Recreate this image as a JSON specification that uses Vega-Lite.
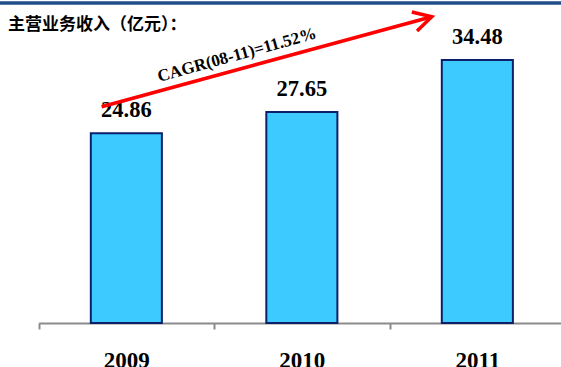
{
  "$schema": "https://vega.github.io/schema/vega-lite/v6.json",
  "width": 561,
  "height": 320,
  "autosize": "none",
  "padding": {"left": 0, "top": 3, "right": 0, "bottom": 44},
  "background": "#ffffff",
  "config": {
    "view": {"stroke": null},
    "axis": {"grid": false}
  },
  "layer": [
    {
      "data": {"values": [{"edge": "top"}]},
      "mark": {"type": "rule", "color": "#1F4E8A", "strokeWidth": 3.5},
      "encoding": {
        "y": {"datum": 41.94, "type": "quantitative", "scale": {"domain": [0, 41.94], "nice": false, "zero": true}, "axis": null}
      }
    },
    {
      "data": {
        "values": [
          {"year": "2009", "revenue": 24.86},
          {"year": "2010", "revenue": 27.65},
          {"year": "2011", "revenue": 34.48}
        ]
      },
      "encoding": {
        "x": {
          "field": "year",
          "type": "nominal",
          "sort": null,
          "scale": {"type": "band", "range": [38.6, 565.1], "paddingInner": 0, "paddingOuter": 0},
          "axis": {
            "title": null,
            "tickBand": "extent",
            "labelAngle": 0,
            "domainColor": "#8C8C8C",
            "domainWidth": 2,
            "tickColor": "#8C8C8C",
            "tickWidth": 2,
            "tickSize": 6,
            "labelFont": "Liberation Serif",
            "labelFontSize": 23,
            "labelFontWeight": "bold",
            "labelColor": "#000000",
            "labelPadding": 20
          }
        },
        "y": {"field": "revenue", "type": "quantitative", "axis": null}
      },
      "layer": [
        {
          "mark": {"type": "bar", "width": {"band": 0.405}, "fill": "#3CCAFF", "stroke": "#0B2068", "strokeWidth": 2}
        },
        {
          "mark": {"type": "text", "dy": -16, "baseline": "alphabetic", "align": "center", "font": "Liberation Serif", "fontSize": 22.5, "fontWeight": "bold", "color": "#000000"},
          "encoding": {"text": {"field": "revenue", "type": "quantitative", "format": ".2f"}}
        }
      ]
    },
    {
      "data": {
        "values": [
          {"x0": 2008.859, "y0": 28.35, "x1": 2010.74, "y1": 40.14, "label": "CAGR(08-11)=11.52%", "lx": 2009.63, "ly": 35.1, "heading": "主营业务收入（亿元）：", "hx": 2008.326, "hy": 39.1}
        ]
      },
      "encoding": {
        "x": {"type": "quantitative", "scale": {"domain": [2008.28, 2011.476], "nice": false, "zero": false}, "axis": null}
      },
      "layer": [
        {
          "mark": {"type": "rule", "color": "#FF0000", "strokeWidth": 3.5},
          "encoding": {
            "x": {"field": "x0", "type": "quantitative", "scale": {"domain": [2008.28, 2011.476], "nice": false, "zero": false}, "axis": null},
            "y": {"field": "y0", "type": "quantitative"},
            "x2": {"field": "x1"},
            "y2": {"field": "y1"}
          }
        },
        {
          "mark": {"type": "point", "shape": "M-1,-0.55L0,0L-1,0.55", "filled": false, "stroke": "#FF0000", "strokeWidth": 3.5, "angle": -15.3, "size": 1300, "opacity": 1},
          "encoding": {
            "x": {"field": "x1", "type": "quantitative", "scale": {"domain": [2008.28, 2011.476], "nice": false, "zero": false}, "axis": null},
            "y": {"field": "y1", "type": "quantitative"}
          }
        },
        {
          "mark": {"type": "text", "angle": -15.5, "align": "center", "baseline": "middle", "font": "Liberation Serif", "fontSize": 17, "fontWeight": "bold", "color": "#000000"},
          "encoding": {
            "x": {"field": "lx", "type": "quantitative", "scale": {"domain": [2008.28, 2011.476], "nice": false, "zero": false}, "axis": null},
            "y": {"field": "ly", "type": "quantitative"},
            "text": {"field": "label"}
          }
        },
        {
          "mark": {"type": "text", "align": "left", "baseline": "middle", "font": "Noto Sans CJK SC", "fontSize": 17, "fontWeight": "bold", "color": "#000000"},
          "encoding": {
            "x": {"field": "hx", "type": "quantitative", "scale": {"domain": [2008.28, 2011.476], "nice": false, "zero": false}, "axis": null},
            "y": {"field": "hy", "type": "quantitative"},
            "text": {"field": "heading"}
          }
        }
      ]
    }
  ],
  "resolve": {"scale": {"x": "independent"}}
}
